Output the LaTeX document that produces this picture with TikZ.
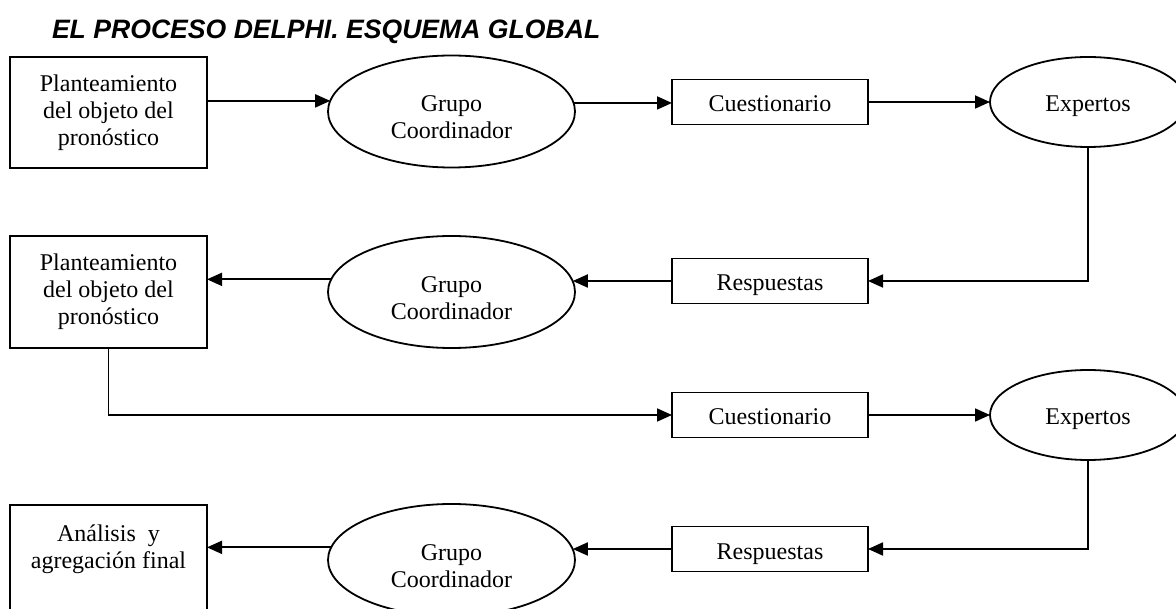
\documentclass[tikz,border=0pt]{standalone}
\usepackage{fontspec}
\setmainfont{Liberation Serif}
\newfontfamily\titlefont{Liberation Sans}
\usetikzlibrary{arrows.meta,shapes.geometric,calc}
\begin{document}
\begin{tikzpicture}[x=1pt,y=-1pt,
  every node/.style={inner sep=0pt, outer sep=0pt},
  ln/.style={line width=1.8pt},
  arr/.style={ln,-{Triangle[length=15pt,width=13pt]}},
  txt/.style={font=\fontsize{24}{27}\selectfont, align=center},
  bigbox/.style={draw, ln, rectangle, fill=white, minimum width=197pt, txt},
  smallbox/.style={draw, ln, rectangle, fill=white, minimum width=196pt, minimum height=45pt, txt, text height=20pt, text depth=0pt},
  grupo/.style={draw, ln, ellipse, fill=white, minimum width=247pt, minimum height=112pt},
  experto/.style={draw, ln, ellipse, fill=white, minimum width=196pt, minimum height=90pt, txt, text height=20pt, text depth=0pt}
]
\fill[white] (0,0) rectangle (1176,609);
\useasboundingbox (0,0) rectangle (1176,609);

\node[anchor=base west, font=\titlefont\bfseries\itshape\fontsize{26.6}{32}\selectfont] (title) at (52,39) {EL PROCESO DELPHI. ESQUEMA GLOBAL};

% row 1
\node[bigbox, minimum height=111pt] (b1) at (108.5,112.5) {Planteamiento\\del objeto del\\pron\'ostico};
\node[grupo] (e1) at (451.5,111.5) {};
\node[txt] (e1t) at ([yshift=-6pt]e1.center) {Grupo\\Coordinador};
\node[smallbox] (q1) at (770,102) {Cuestionario};
\node[experto] (x1) at (1088,102) {Expertos};

% row 2
\node[bigbox, minimum height=112pt] (b2) at (108.5,292) {Planteamiento\\del objeto del\\pron\'ostico};
\node[grupo] (e2) at (451.5,292) {};
\node[txt] (e2t) at ([yshift=-6pt]e2.center) {Grupo\\Coordinador};
\node[smallbox] (r2) at (770,281) {Respuestas};

% row 3
\node[smallbox] (q3) at (770,415) {Cuestionario};
\node[experto] (x3) at (1088,415) {Expertos};

% row 4
\node[bigbox, minimum height=120pt] (b4) at (108.5,565) {};
\node[txt, anchor=base] (b4t) at (108.5,541) {\begin{tabular}[t]{@{}c@{}}An\'alisis~~y\\agregaci\'on final\end{tabular}};
\node[grupo] (e4) at (451.5,560) {};
\node[txt] (e4t) at ([yshift=-6pt]e4.center) {Grupo\\Coordinador};
\node[smallbox] (r4) at (770,549) {Respuestas};

% connectors
\draw[arr] (b1.east |- e1.175.5) -- (e1.175.5);
\draw[arr] (e1.4.5) -- (e1.4.5 -| q1.west);
\draw[arr] (q1.east) -- (x1.west);
\draw[arr] (x1.south) |- (r2.east);
\draw[arr] (r2.west) -- (r2.west -| e2.5.2);
\draw[arr] (e2.174.8) -- (e2.174.8 -| b2.east);
\draw[arr] (b2.south) |- (q3.west);
\draw[arr] (q3.east) -- (x3.west);
\draw[arr] (x3.south) |- (r4.east);
\draw[arr] (r4.west) -- (r4.west -| e4.5.2);
\draw[arr] (e4.174.8) -- (e4.174.8 -| b4.east);
\end{tikzpicture}
\end{document}
